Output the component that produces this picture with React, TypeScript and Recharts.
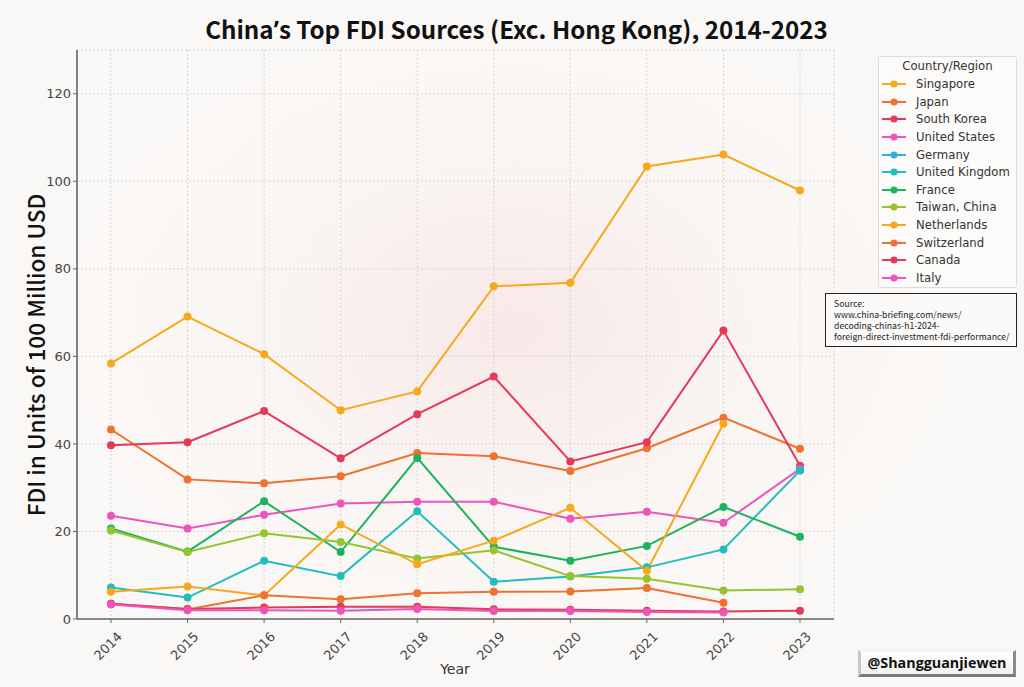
import React from 'react';
import { LineChart, Line, XAxis, YAxis, CartesianGrid } from 'recharts';

const years = ['2014', '2015', '2016', '2017', '2018', '2019', '2020', '2021', '2022', '2023'];

const singapore = [58.4, 69.1, 60.5, 47.7, 52.0, 76.0, 76.8, 103.4, 106.1, 97.9];
const japan = [43.3, 31.9, 31.0, 32.6, 37.9, 37.2, 33.8, 39.0, 46.0, 38.9];
const southKorea = [39.7, 40.4, 47.5, 36.7, 46.8, 55.4, 36.0, 40.4, 65.9, 35.0];
const unitedStates = [23.6, 20.7, 23.8, 26.4, 26.8, 26.8, 22.9, 24.5, 22.0, 34.3];
const germany = [null, null, null, null, null, null, null, null, null, 34.0];
const unitedKingdom = [7.2, 4.9, 13.3, 9.8, 24.6, 8.5, 9.7, 11.8, 15.9, 33.9];
const france = [20.7, 15.4, 26.9, 15.3, 36.8, 16.5, 13.3, 16.7, 25.6, 18.8];
const taiwan = [20.2, 15.3, 19.6, 17.6, 13.8, 15.7, 9.8, 9.2, 6.5, 6.8];
const netherlands = [6.2, 7.4, 5.4, 21.6, 12.5, 17.9, 25.4, 11.0, 44.6, null];
const switzerland = [3.5, 2.2, 5.4, 4.5, 5.9, 6.2, 6.3, 7.1, 3.7, null];
const canada = [3.5, 2.3, 2.6, 2.8, 2.8, 2.2, 2.1, 1.9, 1.7, 1.9];
const italy = [3.3, 2.0, 2.0, 1.9, 2.3, 1.8, 1.8, 1.6, 1.5, null];

const yTicks = [0, 20, 40, 60, 80, 100, 120];

const series = [
  { key: 'Singapore', values: singapore, color: '#F6A91C' },
  { key: 'Japan', values: japan, color: '#EE7230' },
  { key: 'South Korea', values: southKorea, color: '#E5395A' },
  { key: 'United States', values: unitedStates, color: '#EC56B8' },
  { key: 'Germany', values: germany, color: '#35ACE6' },
  { key: 'United Kingdom', values: unitedKingdom, color: '#22BDBD' },
  { key: 'France', values: france, color: '#1DB35E' },
  { key: 'Taiwan, China', values: taiwan, color: '#95C42C' },
  { key: 'Netherlands', values: netherlands, color: '#F6A91C' },
  { key: 'Switzerland', values: switzerland, color: '#EE7230' },
  { key: 'Canada', values: canada, color: '#E5395A' },
  { key: 'Italy', values: italy, color: '#EC56B8' },
];

const data = years.map((year, i) => {
  const row: any = { year };
  series.forEach((s) => {
    row[s.key] = s.values[i];
  });
  return row;
});

const sans = '"DejaVu Sans", sans-serif';
const cjk = '"Noto Sans CJK SC", "Noto Sans", sans-serif';

const XTick = (props: any) => {
  const { x, y, payload } = props;
  return (
    <text
      x={0}
      y={0}
      transform={`translate(${x - 3},${y + 21}) rotate(-45)`}
      textAnchor="middle"
      dominantBaseline="central"
      fontFamily={sans}
      fontSize={13}
      fill="#444"
    >
      {payload.value}
    </text>
  );
};

const Legendbox = () => (
  <div
    style={{
      position: 'absolute',
      left: 878,
      top: 56,
      width: 139,
      height: 232,
      boxSizing: 'border-box',
      border: '1px solid #dcdcdc',
      borderRadius: 3,
      background: 'rgba(252,251,250,0.85)',
      fontFamily: sans,
      fontSize: 11.7,
      color: '#333',
    }}
  >
    <div style={{ textAlign: 'center', marginTop: 1, height: 17.4, lineHeight: '17.4px' }}>Country/Region</div>
    {series.map((s) => (
      <div key={s.key} style={{ display: 'flex', alignItems: 'center', height: 17.6 }}>
        <svg width={30} height={10} style={{ marginLeft: 2 }}>
          <line x1={1} y1={5} x2={25} y2={5} stroke={s.color} strokeWidth={2} />
          <circle cx={13} cy={5} r={3.6} fill={s.color} />
        </svg>
        <span style={{ marginLeft: 5, whiteSpace: 'nowrap' }}>{s.key}</span>
      </div>
    ))}
  </div>
);

export default function App() {
  return (
    <div
      style={{
        position: 'absolute',
        left: 0,
        top: 0,
        width: 1024,
        height: 687,
        overflow: 'hidden',
        background:
          'radial-gradient(ellipse at 50% 48%, rgba(244,214,214,0.45) 0%, rgba(248,236,234,0.25) 35%, rgba(250,248,246,0) 65%), #FAF8F6',
      }}
    >
      <LineChart
        width={1024}
        height={687}
        data={data}
        margin={{ top: 50, right: 190, bottom: 8, left: 0 }}
        style={{ position: 'absolute', left: 0, top: 0 }}
      >
        <CartesianGrid stroke="#cfcfcf" strokeDasharray="2 2" strokeWidth={0.8} />
        <XAxis
          dataKey="year"
          height={60}
          padding={{ left: 34, right: 34 }}
          tick={<XTick />}
          tickLine={{ stroke: '#666' }}
          tickSize={4}
          axisLine={{ stroke: '#666', strokeWidth: 1.6 }}
          interval={0}
        />
        <YAxis
          width={77}
          domain={[0, 130]}
          ticks={yTicks}
          tick={{ fontFamily: sans, fontSize: 13, fill: '#444' }}
          tickLine={{ stroke: '#666' }}
          tickSize={4}
          axisLine={{ stroke: '#666', strokeWidth: 1.6 }}
        />
        {series.map((s) => (
          <Line
            key={s.key}
            dataKey={s.key}
            stroke={s.color}
            strokeWidth={2}
            dot={{ r: 4, fill: s.color, stroke: 'none' }}
            activeDot={false}
            isAnimationActive={false}
          />
        ))}
      </LineChart>

      <div
        style={{
          position: 'absolute',
          left: 0,
          top: 11,
          width: 1033,
          textAlign: 'center',
          fontFamily: cjk,
          fontWeight: 700,
          fontSize: 24.2,
          lineHeight: '36px',
          color: '#111',
        }}
      >
        China<span style={{ fontFamily: '"Noto Sans", sans-serif' }}>’</span>s Top FDI Sources (Exc. Hong Kong), 2014-2023
      </div>

      <div
        style={{
          position: 'absolute',
          left: 35,
          top: 355,
          transform: 'translate(-50%, -50%) rotate(-90deg)',
          whiteSpace: 'nowrap',
          fontFamily: cjk,
          fontWeight: 500,
          fontSize: 22.6,
          color: '#111',
        }}
      >
        FDI in Units of 100 Million USD
      </div>

      <div
        style={{
          position: 'absolute',
          left: 455,
          top: 669,
          transform: 'translate(-50%, -50%)',
          fontFamily: sans,
          fontSize: 14,
          color: '#333',
        }}
      >
        Year
      </div>

      <Legendbox />

      <div
        style={{
          position: 'absolute',
          left: 825,
          top: 293,
          width: 192,
          height: 54,
          boxSizing: 'border-box',
          border: '1.5px solid #222',
          background: '#FBFAF9',
          padding: '4px 0 0 8px',
          fontFamily: cjk,
          fontSize: 8.7,
          lineHeight: '11px',
          color: '#222',
        }}
      >
        <div>Source:</div>
        <div>www.china-briefing.com/news/</div>
        <div>decoding-chinas-h1-2024-</div>
        <div>foreign-direct-investment-fdi-performance/</div>
      </div>

      <div
        style={{
          position: 'absolute',
          left: 858,
          top: 650,
          width: 158,
          height: 27,
          boxSizing: 'border-box',
          background: 'linear-gradient(#ffffff, #f0f0f0)',
          borderTop: '2px solid #f4f4f4',
          borderLeft: '3px solid #c8c8c8',
          borderRight: '3px solid #8a8a8a',
          borderBottom: '3px solid #7a7a7a',
          textAlign: 'center',
          lineHeight: '22px',
          fontFamily: '"Open Sans", sans-serif',
          fontWeight: 700,
          fontSize: 14.3,
          color: '#111',
        }}
      >
        @Shangguanjiewen
      </div>
    </div>
  );
}
